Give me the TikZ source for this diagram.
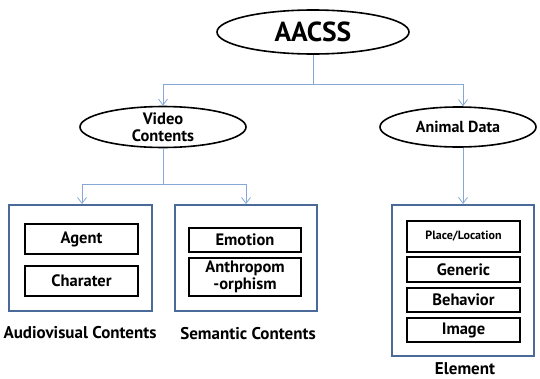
\documentclass[tikz,border=0pt]{standalone}
\usepackage{fontspec}
\setmainfont{PT Sans}
\usetikzlibrary{shapes.geometric,arrows.meta,positioning,calc}
\definecolor{boxblue}{HTML}{4A6A9A}
\definecolor{linkblue}{HTML}{86A8D6}
\begin{document}
\begin{tikzpicture}[x=1pt,y=-1pt,
  oval/.style={ellipse,draw=black,line width=1.6pt,inner sep=0pt,font=\bfseries,align=center},
  group/.style={draw=boxblue,line width=2pt,inner sep=0pt},
  item/.style={draw=black,line width=1.6pt,inner sep=0pt,font=\bfseries\fontsize{16.5}{16.5}\selectfont,align=center},
  captext/.style={font=\bfseries\fontsize{17}{17}\selectfont,inner sep=0pt},
  link/.style={draw=linkblue,line width=0.8pt},
  arr/.style={link,-{Straight Barb[length=6pt,width=9pt,line width=0.8pt]}}]
\useasboundingbox (0,0) rectangle (540,378);
% top
\node[oval,minimum width=192pt,minimum height=44pt,font=\bfseries\fontsize{27.5}{27.5}\selectfont] (aacss) at (313,32) {AACSS};
\node[oval,minimum width=166pt,minimum height=40pt,font=\bfseries\fontsize{16.5}{17}\selectfont] (video) at (163,127) {Video\\Contents};
\node[oval,minimum width=156pt,minimum height=40pt,font=\bfseries\fontsize{16}{17}\selectfont] (animal) at (458,127) {Animal Data};
% groups
\node[group,minimum width=143pt,minimum height=106pt] (av) at (80.5,258) {};
\node[group,minimum width=142pt,minimum height=106pt] (sem) at (246,258) {};
\node[group,minimum width=142pt,minimum height=151pt] (elem) at (463,280.5) {};
% items
\node[item,minimum width=113pt,minimum height=30pt] (agent) at (81.5,239) {Agent};
\node[item,minimum width=113pt,minimum height=30pt] (char) at (81.5,281) {Charater};
\node[item,minimum width=112pt,minimum height=24pt] (emo) at (245,240) {Emotion};
\node[item,minimum width=112pt,minimum height=38pt,font=\bfseries\fontsize{16.5}{16.5}\selectfont] (anth) at (245,277) {Anthropom\\-orphism};
\node[item,minimum width=113pt,minimum height=31pt,font=\bfseries\fontsize{12}{12}\selectfont] (place) at (463.5,236.5) {Place/Location};
\node[item,minimum width=113pt,minimum height=25pt] (gen) at (463.5,269.5) {Generic};
\node[item,minimum width=113pt,minimum height=24pt] (beh) at (463.5,300) {Behavior};
\node[item,minimum width=113pt,minimum height=24pt] (img) at (463.5,330) {Image};
% captions
\node[captext] (avcap) at (80,333) {Audiovisual Contents};
\node[captext] (semcap) at (248,334) {Semantic Contents};
\node[captext,anchor=base] (elcap) at (465,374.5) {Element};
% connectors
\coordinate (j1) at ($(aacss.south)+(0,30)$);
\draw[link] (aacss.south) -- (j1);
\draw[arr] (j1) -| (video.north);
\draw[arr] (j1) -| (elem.north |- animal.north);
\draw[arr] (animal.south -| elem.north) -- (elem.north);
\coordinate (j2) at ($(video.south)+(0,36)$);
\draw[link] (video.south) -- (j2);
\draw[arr] (j2) -| ([xshift=1.5pt]av.north);
\draw[arr] (j2) -| (sem.north);
\end{tikzpicture}
\end{document}
